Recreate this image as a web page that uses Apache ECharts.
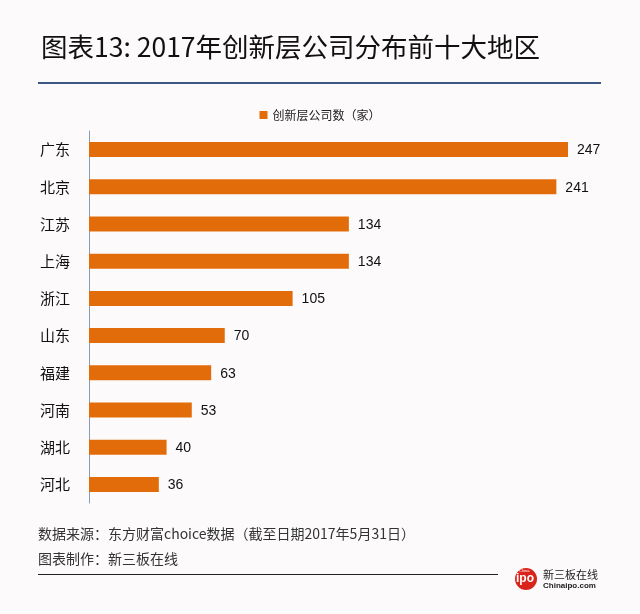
<!DOCTYPE html>
<html><head><meta charset="utf-8">
<script src="https://cdn.jsdelivr.net/npm/echarts@6/dist/echarts.min.js"></script>
<style>html,body{margin:0;padding:0;background:#fcfafa}#c{width:640px;height:614px}</style>
</head><body><div id="c"></div>
<script>
var categories = ['广东','北京','江苏','上海','浙江','山东','福建','河南','湖北','河北'];
var values = [247,241,134,134,105,70,63,53,40,36];
var seriesName = '创新层公司数（家）';
var FONT = '"Noto Sans CJK SC", "Noto Sans", sans-serif';
var NUMFONT = '"Liberation Sans", Arial, sans-serif';
var chart = echarts.init(document.getElementById('c'));
chart.setOption({
  backgroundColor: '#fcfafa',
  animation: false,
  title: {
    text: '图表13: 2017年创新层公司分布前十大地区',
    left: 36, top: 29,
    textStyle: {fontFamily: FONT, fontSize: 26.5, fontWeight: 'normal', color: '#111'}
  },
  legend: {
    data: [seriesName], top: 104, left: 'center',
    icon: 'rect', itemWidth: 8, itemHeight: 8, itemGap: 4,
    textStyle: {fontFamily: FONT, fontSize: 12, color: '#222'}
  },
  grid: {left: 89, right: 72, top: 131, height: 372, containLabel: false},
  xAxis: {type: 'value', min: 0, max: 247, show: false},
  yAxis: {
    type: 'category', data: categories, inverse: true,
    axisLine: {show: true, lineStyle: {color: '#8a9ab8', width: 1}},
    axisTick: {show: false},
    axisLabel: {margin: 19, fontFamily: FONT, fontSize: 15, color: '#111'}
  },
  series: [{
    name: seriesName, type: 'bar', data: values, barWidth: 15,
    itemStyle: {color: '#e36c0a'},
    label: {show: true, position: 'right', distance: 9, offset: [0, 1], fontFamily: NUMFONT, fontSize: 14, color: '#111'}
  }],
  graphic: [
    {type: 'rect', shape: {x: 38, y: 82, width: 563, height: 2}, style: {fill: '#3d5682'}},
    {type: 'text', left: 38, top: 527, style: {text: '数据来源：东方财富choice数据（截至日期2017年5月31日）', fontFamily: FONT, fontSize: 14, fill: '#333'}},
    {type: 'text', left: 38, top: 552, style: {text: '图表制作：新三板在线', fontFamily: FONT, fontSize: 14, fill: '#333'}},
    {type: 'rect', shape: {x: 38, y: 574, width: 460, height: 1}, style: {fill: '#222'}},
    {type: 'circle', shape: {cx: 526, cy: 579, r: 11}, style: {fill: '#d9241b'}},
    {type: 'text', left: 516, top: 573, style: {text: 'ipo', fontFamily: 'Arial', fontSize: 12, fontWeight: 'bold', fill: '#fff'}},
    {type: 'text', left: 519, top: 569, style: {text: 'China', fontFamily: 'Arial', fontSize: 4, fill: '#fff'}},
    {type: 'text', left: 543, top: 569, style: {text: '新三板在线', fontFamily: FONT, fontSize: 11, fill: '#222'}},
    {type: 'text', left: 543, top: 582, style: {text: 'Chinaipo.com', fontFamily: 'Arial', fontSize: 8, fontWeight: 'bold', fill: '#222'}}
  ]
});
</script></body></html>
